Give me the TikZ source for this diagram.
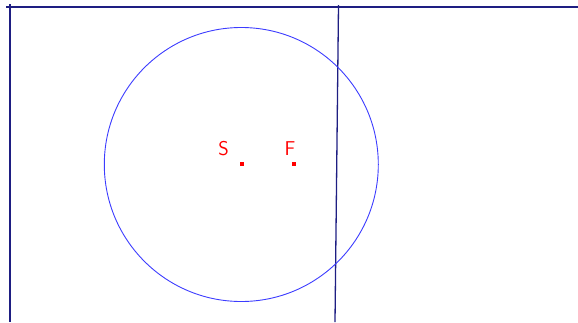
\documentclass[tikz,border=0pt]{standalone}
\usepackage{tikz}

\definecolor{linea}{RGB}{30,30,130}
\definecolor{cerchio}{RGB}{60,60,255}

\begin{document}
\begin{tikzpicture}[x=1pt,y=-1pt,
		punto/.style={fill=red,inner sep=0pt,minimum size=4pt},
		etichetta/.style={text=red,font=\sffamily\fontsize{20}{20}\selectfont,inner sep=0pt}]
			
			% Fissare i margini della figura
			\useasboundingbox (0,0) rectangle (578,322);
			
			% Disegnare la retta orizzontale in alto e le due rette verticali
			\draw[linea,line width=1.3pt] (6,7) -- (578,7);
			\draw[linea,line width=1.3pt] (10,4) -- (10,322);
			\draw[linea,line width=1.3pt] (338.5,5) -- (335,322);
			
			% Disegnare la circonferenza
			\draw[cerchio,line width=0.9pt] (241.3,164.5) circle (137);
			
			% Disegnare i punti S e F
			\node[punto] (S) at (241.5,164) {};
			\node[punto] (F) at (294,164) {};
			\node[etichetta] (lS) at (223.5,148.5) {S};
			\node[etichetta] (lF) at (290,148.5) {F};
			
		\end{tikzpicture}
\end{document}
